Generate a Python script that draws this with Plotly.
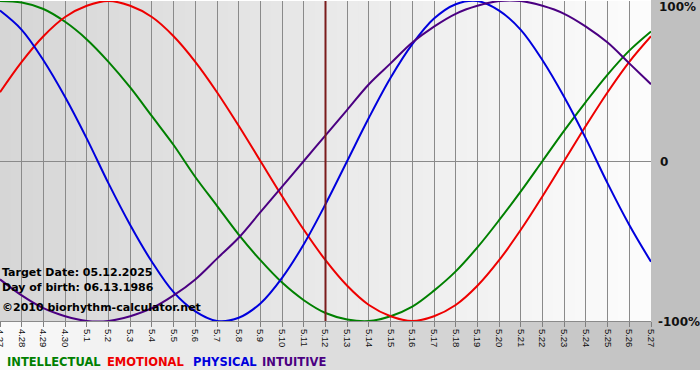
import plotly.graph_objects as go

# ---- data ----
dates = ["4.27", "4.28", "4.29", "4.30", "5.1", "5.2", "5.3", "5.4", "5.5", "5.6",
         "5.7", "5.8", "5.9", "5.10", "5.11", "5.12", "5.13", "5.14", "5.15", "5.16",
         "5.17", "5.18", "5.19", "5.20", "5.21", "5.22", "5.23", "5.24", "5.25", "5.26", "5.27"]

physical = [0.94, 0.82, 0.63, 0.40, 0.14, -0.14, -0.40, -0.63, -0.82, -0.94, -1.00,
            -0.98, -0.89, -0.73, -0.52, -0.27, 0.00, 0.27, 0.52, 0.73, 0.89, 0.98,
            1.00, 0.94, 0.82, 0.63, 0.40, 0.14, -0.14, -0.40, -0.63]
emotional = [0.43, 0.62, 0.78, 0.90, 0.97, 1.00, 0.97, 0.90, 0.78, 0.62, 0.43, 0.22,
             0.00, -0.22, -0.43, -0.62, -0.78, -0.90, -0.97, -1.00, -0.97, -0.90,
             -0.78, -0.62, -0.43, -0.22, 0.00, 0.22, 0.43, 0.62, 0.78]
intellectual = [1.00, 0.99, 0.95, 0.87, 0.76, 0.62, 0.46, 0.28, 0.10, -0.10, -0.28,
                -0.46, -0.62, -0.76, -0.87, -0.95, -0.99, -1.00, -0.97, -0.91, -0.81,
                -0.69, -0.54, -0.37, -0.19, 0.00, 0.19, 0.37, 0.54, 0.69, 0.81]
intuitive = [-0.74, -0.84, -0.92, -0.97, -1.00, -1.00, -0.97, -0.92, -0.84, -0.74,
             -0.61, -0.48, -0.32, -0.16, 0.00, 0.16, 0.32, 0.48, 0.61, 0.74, 0.84,
             0.92, 0.97, 1.00, 1.00, 0.97, 0.92, 0.84, 0.74, 0.61, 0.48]

target_label = "5.12"
y_ticks = [1, 0, -1]
y_labels = ["100%", "0", "-100%"]
info_lines = ["Target Date: 05.12.2025", "Day of birth: 06.13.1986", "\u00a92010 biorhythm-calculator.net"]
legend_names = ["INTELLECTUAL", "EMOTIONAL", "PHYSICAL", "INTUITIVE"]

# ---- styling ----
colors = {"INTELLECTUAL": "#008000", "EMOTIONAL": "#ee0000",
          "PHYSICAL": "#0000dd", "INTUITIVE": "#4b0082"}
series = {"INTELLECTUAL": intellectual, "EMOTIONAL": emotional,
          "PHYSICAL": physical, "INTUITIVE": intuitive}

W, H = 700, 380
ML, MR, MT, MB = 0, 49, 1, 59
PW, PH = W - ML - MR, H - MT - MB


def px(p):  # pixel x -> paper
    return (p - ML) / PW


def py(p):  # pixel y -> paper
    return (MT + PH - p) / PH


def gray(v):
    v = int(round(v))
    return f"rgb({v},{v},{v})"


fig = go.Figure()
xi = list(range(len(dates)))
for name in ["INTELLECTUAL", "EMOTIONAL", "PHYSICAL", "INTUITIVE"]:
    fig.add_trace(go.Scatter(x=xi, y=series[name], mode="lines",
                             line=dict(color=colors[name], width=2, shape="spline", smoothing=1.0),
                             name=name, showlegend=False, hoverinfo="skip"))

shapes = []
# plot area gradient
N = 60
for i in range(N):
    c = 214 + (252 - 214) * i / (N - 1)
    shapes.append(dict(type="rect", xref="paper", yref="paper", x0=i / N, x1=(i + 1) / N + 0.002,
                       y0=0, y1=1, fillcolor=gray(c), line=dict(width=0), layer="below"))
# right gray band
shapes.append(dict(type="rect", xref="paper", yref="paper", x0=1, x1=px(W) + 0.01,
                   y0=py(322), y1=py(-2), fillcolor="#c0c0c0", line=dict(width=0), layer="below"))
# bottom gradient band
M = 70
for i in range(M):
    c = 250 + (190 - 250) * i / (M - 1)
    shapes.append(dict(type="rect", xref="paper", yref="paper", x0=px(W * i / M), x1=px(W * (i + 1) / M) + 0.002,
                       y0=py(370), y1=py(321.5), fillcolor=gray(c), line=dict(width=0), layer="below"))
# target date line
shapes.append(dict(type="line", xref="x", yref="paper", x0=dates.index(target_label),
                   x1=dates.index(target_label), y0=0, y1=1,
                   line=dict(color="#7a1c1c", width=2), layer="above"))

annotations = []
for t, yv, xs, ys in zip(y_labels, y_ticks, [6, 7, 5], [-6, -1, -1]):
    annotations.append(dict(text=t, xref="paper", yref="y", x=1, y=yv, xanchor="left",
                            yanchor="middle", xshift=xs, yshift=ys, showarrow=False,
                            font=dict(family="DejaVu Sans", size=12, color="#111111", weight="bold")))
for t, ypix in zip(info_lines, [272, 287, 307]):
    annotations.append(dict(text=t, xref="paper", yref="paper", x=0, y=py(ypix), xanchor="left",
                            yanchor="middle", xshift=0, showarrow=False,
                            font=dict(family="DejaVu Sans", size=11, color="#000000", weight="bold")))
for t, xpix in zip(legend_names, [6, 106, 192, 261]):
    annotations.append(dict(text=t, xref="paper", yref="paper", x=px(xpix), y=py(362), xanchor="left",
                            yanchor="middle", xshift=-1, showarrow=False,
                            font=dict(family="DejaVu Sans", size=11.5, color=colors[t], weight="bold")))

fig.update_layout(
    width=W, height=H, margin=dict(l=ML, r=MR, t=MT, b=MB, pad=0, autoexpand=False),
    paper_bgcolor="#ffffff", plot_bgcolor="rgba(0,0,0,0)",
    shapes=shapes, annotations=annotations, showlegend=False,
    xaxis=dict(range=[0, len(dates) - 1], tickmode="array", tickvals=xi, ticktext=dates,
               tickangle=90, ticks="outside", ticklen=5, tickcolor="#808080",
               showgrid=True, gridcolor="#8a8a8a", gridwidth=1, zeroline=False,
               showline=True, linecolor="#8a8a8a", linewidth=1, automargin=False,
               ticklabeloverflow="allow",
               tickfont=dict(family="Liberation Sans", size=9.5, color="#111111"),
               fixedrange=True),
    yaxis=dict(range=[-1, 1], tickmode="array", tickvals=[0], showticklabels=False,
               showgrid=True, gridcolor="#8a8a8a", gridwidth=1, zeroline=False,
               showline=False, fixedrange=True, automargin=False),
)

fig.write_html("out.html", config={"displayModeBar": False},
               post_script="document.body.style.margin='0';document.body.style.padding='0';"
                           "document.body.style.overflow='hidden';")
